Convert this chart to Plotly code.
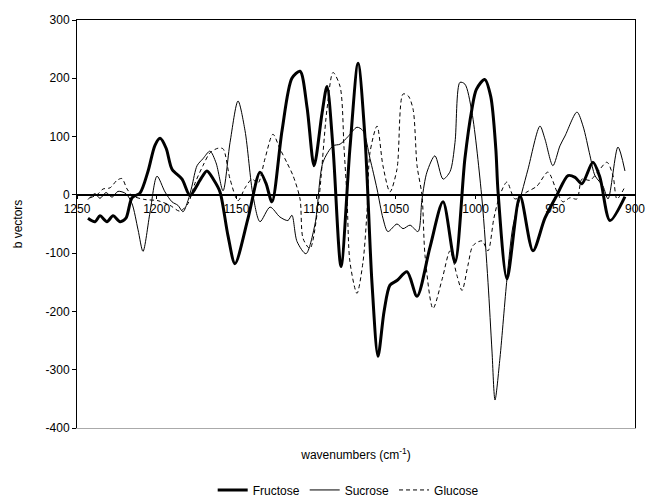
import plotly.graph_objects as go

# Regression (b) vectors against wavenumber, one series per sugar
fructose_wn = [1243.1, 1238.7, 1235.6, 1231.2, 1227.4, 1223.0, 1219.3, 1215.5, 1210.5, 1205.5,
               1201.1, 1197.9, 1194.1, 1190.4, 1184.1, 1179.1, 1172.9, 1168.5, 1164.1, 1160.3,
               1155.3, 1150.9, 1142.7, 1135.2, 1131.5, 1127.7, 1121.4, 1115.2, 1110.1, 1105.7,
               1101.3, 1096.3, 1093.2, 1089.4, 1084.4, 1078.8, 1073.7, 1069.4, 1065.0, 1061.2,
               1057.4, 1053.7, 1049.3, 1043.0, 1036.7, 1028.6, 1020.4, 1012.9, 1006.7, 1002.3,
               999.5, 994.3, 990.5, 987.3, 985.9, 980.3, 972.1, 964.0, 956.5, 948.9,
               942.0, 937.6, 933.3, 926.4, 922.0, 915.7, 906.3]
fructose_b = [-40, -46, -36, -46, -36, -46, -40, -5, 3, 40,
              85, 97, 80, 44, 27, -1, 25, 41, 25, 5,
              -70, -118, -40, 39, 20, -12, 110, 200, 212, 150,
              50, 140, 186, 80, -123, 80, 226, 100, -150, -277,
              -200, -155, -147, -132, -174, -90, -12, -116, 62, 147,
              181, 198, 169, 79, 5, -144, -2, -96, -40, 0,
              33, 30, 19, 56, 30, -44, -3]

sucrose_wn = [1243.1, 1238.7, 1235.6, 1231.8, 1228.0, 1224.3, 1219.3, 1215.5, 1211.7, 1208.6,
              1204.2, 1199.8, 1194.8, 1190.4, 1186.7, 1183.5, 1180.4, 1177.9, 1174.7, 1171.0,
              1166.6, 1162.8, 1158.4, 1154.0, 1149.0, 1144.6, 1139.6, 1135.2, 1128.9, 1122.7,
              1117.7, 1115.2, 1112.0, 1106.4, 1100.7, 1095.7, 1089.4, 1085.0, 1080.0, 1074.4,
              1070.6, 1066.2, 1061.8, 1058.1, 1055.0, 1049.3, 1045.5, 1041.1, 1036.1, 1033.6,
              1030.5, 1025.5, 1020.4, 1016.0, 1012.9, 1009.8, 1006.7, 1002.3, 996.0, 992.2,
              989.7, 987.8, 984.7, 980.3, 976.5, 970.9, 967.1, 959.6, 956.5, 951.5,
              947.1, 943.9, 936.4, 932.6, 928.2, 925.1, 920.1, 916.9, 910.7, 906.3]
sucrose_b = [-8, 2, -6, 4, -4, 6, 2, -15, -60, -97,
             -30, 32, 5, -12, -18, -29, -10, 15, 50, 62,
             75, 55, 7, 90, 161, 110, -1, -46, -21, -38,
             -44, -35, -80, -101, -50, 56, 84, 87, 100, 116,
             110, 62, 10, -40, -63, -50, -58, -52, -63, -7,
             39, 67, 27, 40, 90, 193, 190, 142, -7, -150,
             -268, -352, -280, -144, -53, 5, 44, 118, 96, 50,
             84, 101, 142, 118, 67, 33, 15, -7, 82, 41]

glucose_wn = [1241.8, 1237.5, 1233.7, 1229.3, 1224.9, 1221.8, 1218.6, 1214.9, 1207.4, 1199.2,
              1191.7, 1185.4, 1180.4, 1176.0, 1171.0, 1166.6, 1161.6, 1158.4, 1154.0, 1149.0,
              1144.6, 1140.2, 1136.5, 1132.1, 1127.1, 1122.7, 1118.3, 1114.5, 1110.1, 1108.2,
              1103.9, 1098.8, 1093.2, 1089.4, 1085.0, 1082.5, 1080.6, 1078.8, 1074.4, 1070.6,
              1068.1, 1066.2, 1061.8, 1058.1, 1053.7, 1049.3, 1045.5, 1042.3, 1039.2, 1036.7,
              1033.6, 1031.7, 1026.7, 1020.9, 1016.0, 1011.7, 1008.5, 1004.8, 1001.6, 996.0,
              992.2, 988.5, 984.7, 980.3, 975.3, 967.8, 961.5, 954.6, 948.9, 945.2,
              940.8, 936.4, 933.3, 928.2, 923.2, 917.6, 913.8, 911.3, 906.3]
glucose_b = [-5, 0, 10, 12, 25, 28, 10, -2, -8, -10,
             -18, -28, -15, 20, 50, 72, 80, 79, 27, -10,
             12, 27, 20, 62, 104, 79, 55, 33, -7, -75,
             -92, -20, 147, 210, 186, 80, -7, -115, -169, -115,
             -29, 73, 118, 50, 5, 44, 173, 170, 147, 50,
             -1, -104, -195, -144, -96, -138, -164, -121, -87, -79,
             -96, -40, 0, 22, -7, 5, 15, 39, 5, -12,
             -5, -7, 27, 25, 40, 56, 33, -7, 14]

y_ticks = [300, 200, 100, 0, -100, -200, -300, -400]
y_labels = ["300", "200", "100", "0", "-100", "-200", "-300", "-400"]
x_ticks = [1250, 1200, 1150, 1100, 1050, 1000, 950, 900]
x_labels = ["1250", "1200", "1150", "1100", "1050", "1000", "950", "900"]

FONT = "Liberation Sans, Arial, sans-serif"

fig = go.Figure()
fig.add_trace(go.Scatter(x=fructose_wn, y=fructose_b, mode="lines", name="Fructose",
                         line=dict(color="black", width=3, shape="spline", smoothing=0.8)))
fig.add_trace(go.Scatter(x=sucrose_wn, y=sucrose_b, mode="lines", name="Sucrose",
                         line=dict(color="black", width=1, shape="spline", smoothing=0.8)))
fig.add_trace(go.Scatter(x=glucose_wn, y=glucose_b, mode="lines", name="Glucose",
                         line=dict(color="black", width=1, dash="4px,3px", shape="spline", smoothing=0.8)))

fig.update_layout(
    width=647, height=502,
    margin=dict(l=77, r=12, t=20, b=74, autoexpand=False),
    paper_bgcolor="white", plot_bgcolor="white",
    font=dict(family=FONT, size=12, color="black"),
    showlegend=True,
    legend=dict(orientation="h", x=0.486, xanchor="center", yref="container", y=0.024,
                yanchor="middle", font=dict(size=12), itemwidth=30, tracegroupgap=0),
    xaxis=dict(range=[1250, 900], showgrid=False, zeroline=False, showticklabels=False,
               ticks="", showline=True, linecolor="#aaaaaa", linewidth=1, automargin=False,
               title=dict(text="wavenumbers (cm<sup>-1</sup>)", standoff=22,
                          font=dict(size=12))),
    xaxis2=dict(range=[1250, 900], overlaying="x", anchor="free", position=4 / 7,
                side="bottom", tickvals=x_ticks, ticktext=x_labels,
                ticks="outside", ticklen=3, tickcolor="black", showgrid=False,
                zeroline=False, showline=True, linecolor="black", linewidth=1.6,
                tickfont=dict(size=12, color="black")),
    xaxis3=dict(range=[1250, 900], overlaying="x", side="top", showticklabels=False,
                ticks="", showgrid=False, zeroline=False, showline=True,
                linecolor="black", linewidth=1),
    yaxis=dict(range=[-400, 300], tickvals=y_ticks, ticktext=y_labels, showgrid=False,
               zeroline=False, ticks="outside", ticklen=4, tickcolor="black", showline=True,
               linecolor="black", linewidth=1, mirror=True, automargin=False,
               title=dict(text="b vectors", standoff=20, font=dict(size=12)),
               tickfont=dict(size=12, color="black")),
)

# invisible carriers so the overlay axes are rendered
fig.add_trace(go.Scatter(x=[1250], y=[0], xaxis="x2", yaxis="y", mode="markers",
                         marker=dict(opacity=0), showlegend=False, hoverinfo="skip"))
fig.add_trace(go.Scatter(x=[1250], y=[0], xaxis="x3", yaxis="y", mode="markers",
                         marker=dict(opacity=0), showlegend=False, hoverinfo="skip"))

fig.write_html("out.html")
